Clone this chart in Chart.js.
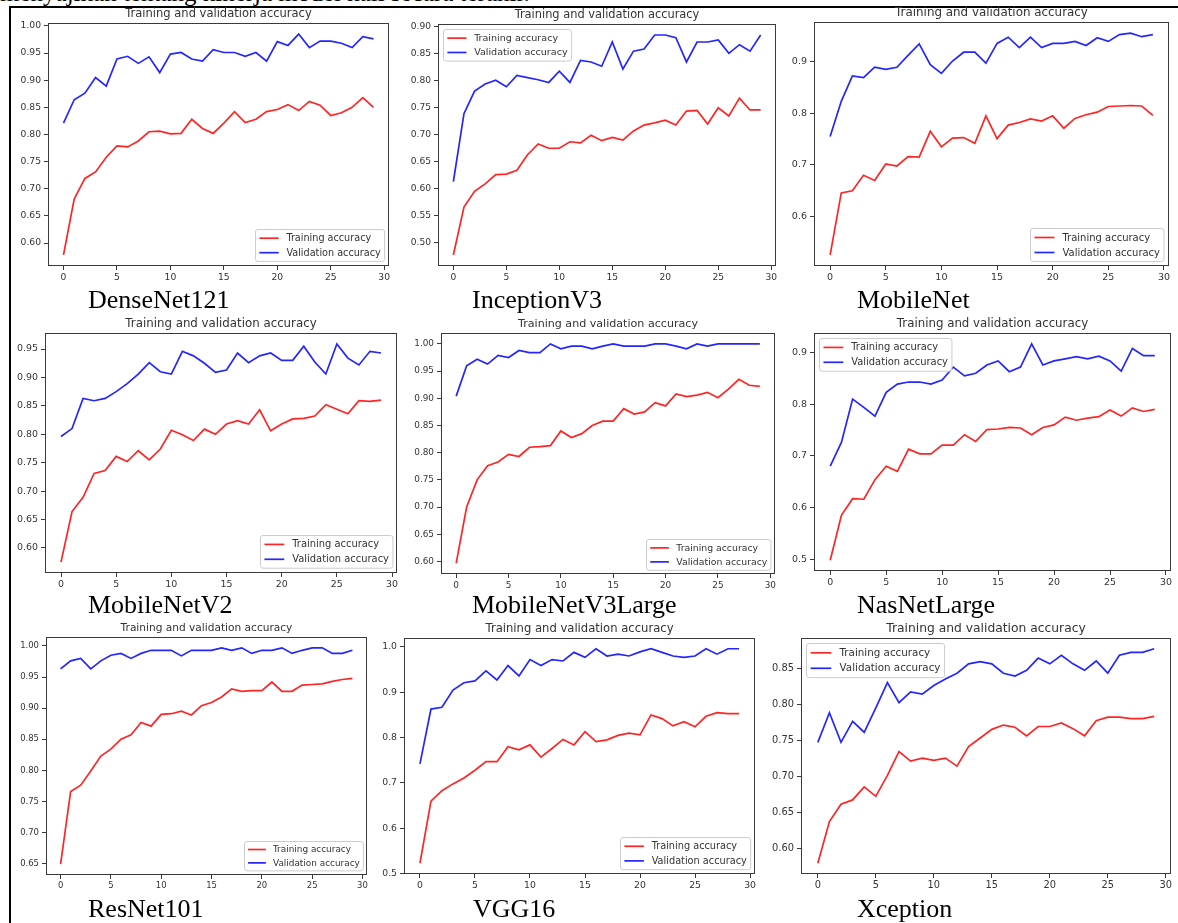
<!DOCTYPE html>
<html>
<head>
<meta charset="utf-8">
<script src="https://cdn.jsdelivr.net/npm/chart.js@4.4.1/dist/chart.umd.min.js"></script>
<style>
  html, body { margin: 0; padding: 0; background: #fff; }
  body { width: 1178px; height: 923px; overflow: hidden; position: relative; }
  canvas { position: absolute; }
  .lbl { position: absolute; font-family: 'Liberation Serif', 'Times New Roman', serif; font-size: 26px; line-height: 26px; color: #000; white-space: nowrap; }
  .toptext { position: absolute; left: 0; top: -19px; font-family: 'Liberation Serif', 'Times New Roman', serif; font-size: 25px; line-height: 24px; color: #000; white-space: nowrap; }
  .hline { position: absolute; left: 9px; top: 6px; width: 1169px; height: 2px; background: #000; }
  .vline { position: absolute; left: 9px; top: 6px; width: 2px; height: 917px; background: #000; }
</style>
</head>
<body>
<div class="toptext">menyajikan tentang kinerja model kali secara terahir.</div>
<div class="hline"></div>
<div class="vline"></div>
<script>
// ---------------- DATA ----------------
const epochs = [0,1,2,3,4,5,6,7,8,9,10,11,12,13,14,15,16,17,18,19,20,21,22,23,24,25,26,27,28,29];
const xTickLabels = ['0','5','10','15','20','25','30'];
const chartTitle = 'Training and validation accuracy';
const seriesLabels = ['Training accuracy', 'Validation accuracy'];
const modelNames = ['DenseNet121','InceptionV3','MobileNet','MobileNetV2','MobileNetV3Large','NasNetLarge','ResNet101','VGG16','Xception'];

const denseNet121Train = [0.578,0.681,0.719,0.731,0.758,0.779,0.777,0.788,0.805,0.806,0.801,0.802,0.828,0.811,0.802,0.821,0.842,0.822,0.828,0.842,0.846,0.855,0.844,0.861,0.854,0.835,0.840,0.850,0.868,0.850];
const denseNet121Val   = [0.821,0.864,0.876,0.905,0.889,0.939,0.944,0.931,0.943,0.914,0.948,0.951,0.939,0.935,0.956,0.951,0.951,0.944,0.951,0.935,0.971,0.964,0.985,0.960,0.972,0.972,0.968,0.960,0.980,0.976];
const denseNet121YTicks = ['0.60','0.65','0.70','0.75','0.80','0.85','0.90','0.95','1.00'];

const inceptionV3Train = [0.477,0.566,0.595,0.609,0.626,0.627,0.634,0.663,0.683,0.675,0.675,0.687,0.685,0.699,0.689,0.695,0.690,0.707,0.718,0.722,0.727,0.718,0.744,0.745,0.720,0.750,0.735,0.768,0.746,0.746];
const inceptionV3Val   = [0.613,0.739,0.781,0.794,0.801,0.789,0.810,0.806,0.802,0.797,0.818,0.797,0.838,0.835,0.827,0.872,0.822,0.855,0.859,0.885,0.885,0.880,0.835,0.872,0.872,0.876,0.851,0.867,0.855,0.885];
const inceptionV3YTicks = ['0.50','0.55','0.60','0.65','0.70','0.75','0.80','0.85','0.90'];

const mobileNetTrain = [0.526,0.646,0.650,0.680,0.670,0.702,0.698,0.716,0.715,0.765,0.735,0.752,0.753,0.742,0.795,0.751,0.777,0.782,0.789,0.785,0.795,0.771,0.790,0.797,0.802,0.813,0.814,0.815,0.814,0.796];
const mobileNetVal   = [0.755,0.823,0.872,0.869,0.889,0.885,0.889,0.912,0.934,0.894,0.877,0.901,0.918,0.918,0.897,0.935,0.947,0.927,0.947,0.927,0.935,0.935,0.939,0.931,0.946,0.939,0.952,0.955,0.948,0.952];
const mobileNetYTicks = ['0.6','0.7','0.8','0.9'];

const mobileNetV2Train = [0.575,0.664,0.689,0.731,0.736,0.761,0.752,0.771,0.755,0.774,0.807,0.799,0.789,0.809,0.800,0.818,0.824,0.818,0.843,0.806,0.818,0.827,0.828,0.832,0.852,0.844,0.836,0.859,0.858,0.860];
const mobileNetV2Val   = [0.796,0.810,0.863,0.859,0.863,0.875,0.889,0.906,0.926,0.910,0.906,0.946,0.938,0.925,0.909,0.913,0.943,0.926,0.938,0.943,0.930,0.930,0.955,0.927,0.906,0.959,0.934,0.922,0.946,0.943];
const mobileNetV2YTicks = ['0.60','0.65','0.70','0.75','0.80','0.85','0.90','0.95'];

const mobileNetV3LargeTrain = [0.597,0.700,0.750,0.776,0.783,0.797,0.793,0.810,0.811,0.813,0.840,0.828,0.835,0.850,0.858,0.858,0.881,0.871,0.875,0.892,0.886,0.908,0.903,0.906,0.911,0.901,0.917,0.935,0.924,0.922];
const mobileNetV3LargeVal   = [0.904,0.960,0.972,0.963,0.979,0.975,0.988,0.984,0.984,1.000,0.991,0.996,0.996,0.991,0.996,1.000,0.996,0.996,0.996,1.000,1.000,0.996,0.991,1.000,0.996,1.000,1.000,1.000,1.000,1.000];
const mobileNetV3LargeYTicks = ['0.60','0.65','0.70','0.75','0.80','0.85','0.90','0.95','1.00'];

const nasNetLargeTrain = [0.498,0.585,0.617,0.616,0.654,0.680,0.670,0.713,0.704,0.704,0.721,0.721,0.741,0.728,0.751,0.752,0.755,0.754,0.741,0.755,0.760,0.775,0.769,0.773,0.776,0.789,0.777,0.793,0.786,0.790];
const nasNetLargeVal   = [0.680,0.726,0.810,0.794,0.777,0.823,0.839,0.843,0.843,0.839,0.847,0.872,0.855,0.860,0.876,0.884,0.863,0.872,0.917,0.876,0.884,0.888,0.892,0.888,0.893,0.884,0.864,0.908,0.894,0.894];
const nasNetLargeYTicks = ['0.5','0.6','0.7','0.8','0.9'];

const resNet101Train = [0.649,0.766,0.776,0.799,0.823,0.834,0.850,0.857,0.877,0.871,0.890,0.891,0.895,0.889,0.904,0.909,0.918,0.931,0.927,0.928,0.928,0.942,0.927,0.927,0.937,0.938,0.939,0.943,0.946,0.948];
const resNet101Val   = [0.963,0.976,0.980,0.963,0.976,0.985,0.988,0.980,0.988,0.993,0.993,0.993,0.984,0.993,0.993,0.993,0.997,0.993,0.997,0.988,0.993,0.993,0.997,0.988,0.993,0.997,0.997,0.988,0.988,0.993];
const resNet101YTicks = ['0.65','0.70','0.75','0.80','0.85','0.90','0.95','1.00'];

const vgg16Train = [0.523,0.660,0.683,0.698,0.711,0.728,0.747,0.747,0.780,0.773,0.784,0.757,0.776,0.796,0.784,0.813,0.791,0.795,0.805,0.810,0.806,0.850,0.842,0.826,0.835,0.824,0.847,0.855,0.853,0.853];
const vgg16Val   = [0.742,0.863,0.867,0.905,0.921,0.925,0.947,0.927,0.959,0.936,0.972,0.959,0.972,0.969,0.988,0.977,0.996,0.980,0.984,0.980,0.989,0.996,0.988,0.980,0.977,0.980,0.996,0.984,0.996,0.996];
const vgg16YTicks = ['0.5','0.6','0.7','0.8','0.9','1.0'];

const xceptionTrain = [0.579,0.637,0.661,0.667,0.685,0.672,0.701,0.734,0.721,0.725,0.722,0.725,0.714,0.741,0.753,0.765,0.771,0.768,0.756,0.769,0.769,0.774,0.766,0.756,0.777,0.782,0.782,0.780,0.780,0.783];
const xceptionVal   = [0.747,0.788,0.747,0.776,0.761,0.795,0.830,0.802,0.817,0.814,0.826,0.835,0.843,0.856,0.859,0.856,0.843,0.839,0.847,0.864,0.856,0.868,0.856,0.847,0.860,0.843,0.868,0.872,0.872,0.877];
const xceptionYTicks = ['0.60','0.65','0.70','0.75','0.80','0.85'];

const trainSeries = [denseNet121Train, inceptionV3Train, mobileNetTrain, mobileNetV2Train, mobileNetV3LargeTrain, nasNetLargeTrain, resNet101Train, vgg16Train, xceptionTrain];
const valSeries   = [denseNet121Val, inceptionV3Val, mobileNetVal, mobileNetV2Val, mobileNetV3LargeVal, nasNetLargeVal, resNet101Val, vgg16Val, xceptionVal];
const yTickSets   = [denseNet121YTicks, inceptionV3YTicks, mobileNetYTicks, mobileNetV2YTicks, mobileNetV3LargeYTicks, nasNetLargeYTicks, resNet101YTicks, vgg16YTicks, xceptionYTicks];

// ---------------- LAYOUT / STYLE ----------------
const panelLayout = [
  {box:[47.7, 23.3, 389.3, 265.7], title:11.5, loc:'lower right', label:[88, 309]},
  {box:[437.7, 24.0, 776.0, 265.7], title:11.4, loc:'upper left',  label:[472, 309]},
  {box:[813.7, 21.7, 1169.3, 265.7], title:11.9, loc:'lower right', label:[857, 309]},
  {box:[45.0, 333.3, 396.7, 573.3], title:11.8, loc:'lower right', label:[88, 614]},
  {box:[441.0, 332.7, 775.0, 574.3], title:11.1, loc:'lower right', label:[472, 614]},
  {box:[814.3, 332.7, 1170.7, 571.0], title:11.8, loc:'upper left',  label:[857, 614]},
  {box:[45.7, 636.7, 366.7, 875.0], title:10.6, loc:'lower right', label:[88, 918]},
  {box:[404.3, 637.7, 755.0, 874.3], title:11.6, loc:'lower right', label:[473, 918]},
  {box:[800.7, 637.7, 1171.0, 874.3], title:12.3, loc:'upper left',  label:[857, 918]}
];
const RED = '#ff2525', BLUE = '#2525ff', AXIS = '#3a3a3a', TEXT = '#333333';
const PAD_L = 50, PAD_R = 12, PAD_T = 24, PAD_B = 24;
const LINE_W = 1.7;

const spines = {
  id: 'spines',
  afterDraw(chart) {
    const {ctx, chartArea: a} = chart;
    ctx.save();
    ctx.strokeStyle = AXIS; ctx.lineWidth = 1;
    ctx.strokeRect(Math.round(a.left) + 0.5, Math.round(a.top) + 0.5, Math.round(a.right - a.left) - 1, Math.round(a.bottom - a.top) - 1);
    ctx.restore();
  }
};

const mplLegend = {
  id: 'mplLegend',
  afterDatasetsDraw(chart, args, opts) {
    const {ctx, chartArea: a} = chart;
    const fs = opts.size;
    ctx.save();
    ctx.font = fs + 'px "DejaVu Sans"';
    const items = chart.data.datasets.map(d => ({text: d.label, color: d.borderColor}));
    const tw = Math.max(...items.map(it => ctx.measureText(it.text).width));
    const bp = 0.4 * fs, ls = 0.5 * fs, hl = 2 * fs, hp = 0.8 * fs, gap = 0.5 * fs;
    const w = bp * 2 + hl + hp + tw;
    const h = bp * 2 + items.length * fs + (items.length - 1) * ls;
    let x, y;
    if (opts.loc === 'upper left') { x = a.left + gap; y = a.top + gap; }
    else { x = a.right - gap - w; y = a.bottom - gap - h; }
    x = Math.round(x) + 0.5; y = Math.round(y) + 0.5;
    const r = 2.5;
    ctx.beginPath();
    ctx.moveTo(x + r, y);
    ctx.arcTo(x + w, y, x + w, y + h, r);
    ctx.arcTo(x + w, y + h, x, y + h, r);
    ctx.arcTo(x, y + h, x, y, r);
    ctx.arcTo(x, y, x + w, y, r);
    ctx.closePath();
    ctx.fillStyle = 'rgba(255,255,255,0.8)';
    ctx.fill();
    ctx.strokeStyle = '#cccccc'; ctx.lineWidth = 1;
    ctx.stroke();
    items.forEach((it, i) => {
      const cy = y + bp + i * (fs + ls) + fs / 2;
      ctx.strokeStyle = it.color; ctx.lineWidth = LINE_W;
      ctx.beginPath(); ctx.moveTo(x + bp, cy); ctx.lineTo(x + bp + hl, cy); ctx.stroke();
      ctx.fillStyle = TEXT; ctx.textBaseline = 'middle'; ctx.textAlign = 'left';
      ctx.fillText(it.text, x + bp + hl + hp, cy + 0.5);
    });
    ctx.restore();
  }
};

function autoRange(arrs) {
  const all = [].concat(...arrs);
  const mn = Math.min(...all), mx = Math.max(...all);
  const m = (mx - mn) * 0.05;
  return [mn - m, mx + m];
}

const xTickValues = xTickLabels.map(Number);
const xSpan = epochs[epochs.length - 1] - epochs[0];
const xMin = epochs[0] - xSpan * 0.05;
const xMax = epochs[epochs.length - 1] + xSpan * 0.05;

panelLayout.forEach((p, i) => {
  const [L, T, R, B] = p.box.map(Math.round);
  const canvas = document.createElement('canvas');
  const cw = (R - L) + PAD_L + PAD_R, ch = (B - T) + PAD_T + PAD_B;
  canvas.width = cw; canvas.height = ch;
  canvas.style.left = (L - PAD_L) + 'px';
  canvas.style.top = (T - PAD_T) + 'px';
  canvas.style.width = cw + 'px';
  canvas.style.height = ch + 'px';
  document.body.appendChild(canvas);

  const ts = p.title, tk = ts * 0.8, lg = ts * 0.84;
  const [yMin, yMax] = autoRange([trainSeries[i], valSeries[i]]);
  const yLabels = yTickSets[i];
  const yVals = yLabels.map(Number);
  const titleGap = 9;
  const padBottom = titleGap - ts / 2;
  const padTop = PAD_T - ts - padBottom;

  new Chart(canvas, {
    type: 'line',
    data: {
      datasets: [
        {label: seriesLabels[0], data: epochs.map((e, k) => ({x: e, y: trainSeries[i][k]})), borderColor: RED, borderWidth: LINE_W, pointRadius: 0, tension: 0, fill: false},
        {label: seriesLabels[1], data: epochs.map((e, k) => ({x: e, y: valSeries[i][k]})), borderColor: BLUE, borderWidth: LINE_W, pointRadius: 0, tension: 0, fill: false}
      ]
    },
    options: {
      responsive: false,
      animation: false,
      devicePixelRatio: 1,
      layout: {padding: {left: 0, right: PAD_R, top: 0, bottom: 0}},
      plugins: {
        legend: {display: false},
        tooltip: {enabled: false},
        title: {display: true, text: chartTitle, fullSize: false, color: TEXT,
                font: {family: 'DejaVu Sans', size: ts, weight: 'normal', lineHeight: 1},
                padding: {top: padTop, bottom: padBottom}},
        mplLegend: {loc: p.loc, size: lg}
      },
      scales: {
        x: {
          type: 'linear', min: xMin, max: xMax,
          afterBuildTicks: s => { s.ticks = xTickValues.map(v => ({value: v})); },
          afterFit: s => { s.height = PAD_B; },
          grid: {display: true, drawOnChartArea: false, drawTicks: true, tickLength: 4, color: AXIS, lineWidth: 1},
          border: {display: false},
          ticks: {autoSkip: false, maxRotation: 0, padding: 2, color: TEXT, font: {family: 'DejaVu Sans', size: tk},
                  callback: v => { const k = xTickValues.indexOf(v); return k >= 0 ? xTickLabels[k] : ''; }}
        },
        y: {
          type: 'linear', min: yMin, max: yMax,
          afterBuildTicks: s => { s.ticks = yVals.map(v => ({value: v})); },
          afterFit: s => { s.width = PAD_L; },
          grid: {display: true, drawOnChartArea: false, drawTicks: true, tickLength: 4, color: AXIS, lineWidth: 1},
          border: {display: false},
          ticks: {autoSkip: false, padding: 3, color: TEXT, font: {family: 'DejaVu Sans', size: tk},
                  callback: v => { const k = yVals.findIndex(t => Math.abs(t - v) < 1e-9); return k >= 0 ? yLabels[k] : ''; }}
        }
      }
    },
    plugins: [spines, mplLegend]
  });

  const lbl = document.createElement('div');
  lbl.className = 'lbl';
  lbl.textContent = modelNames[i];
  lbl.style.left = p.label[0] + 'px';
  lbl.style.top = (p.label[1] - 22) + 'px';
  document.body.appendChild(lbl);
});
</script>
</body>
</html>
